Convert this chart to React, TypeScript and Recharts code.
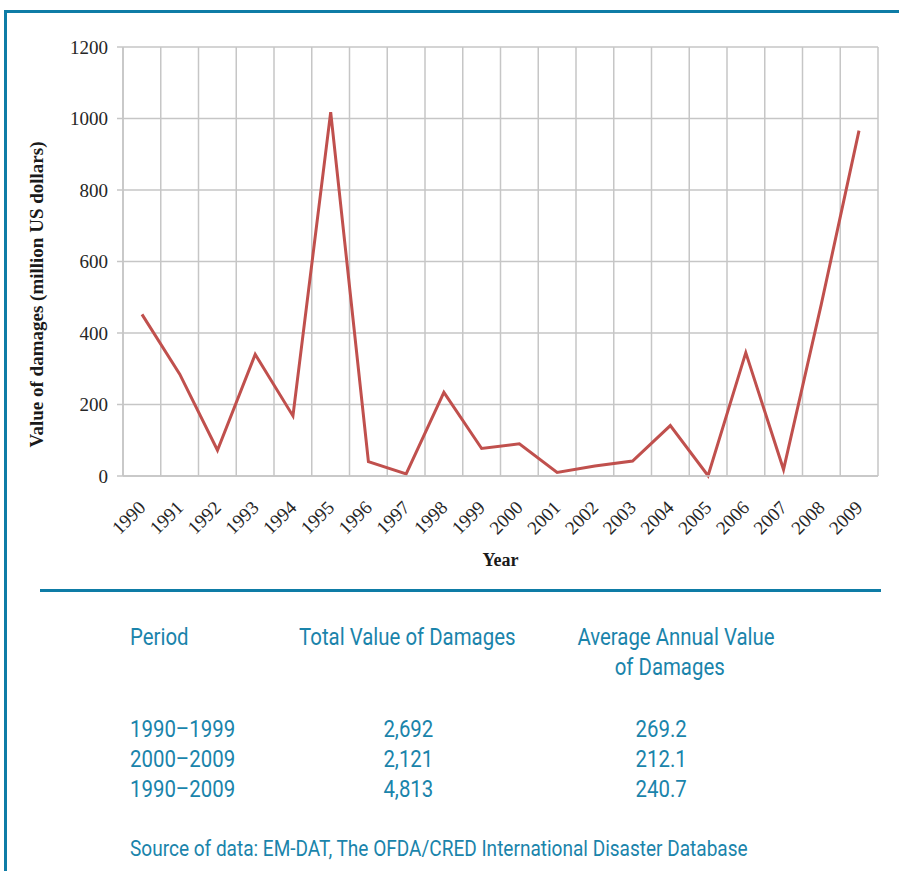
import { LineChart, Line, XAxis, YAxis, CartesianGrid } from "recharts";

const years = [
  "1990", "1991", "1992", "1993", "1994", "1995", "1996", "1997", "1998", "1999",
  "2000", "2001", "2002", "2003", "2004", "2005", "2006", "2007", "2008", "2009",
];
const damages = [452, 285, 72, 340, 168, 1018, 40, 6, 234, 77, 90, 10, 28, 42, 141, 1, 345, 18, 480, 966];
const yTicks = [0, 200, 400, 600, 800, 1000, 1200];

const periods = ["1990–1999", "2000–2009", "1990–2009"];
const totals = ["2,692", "2,121", "4,813"];
const averages = ["269.2", "212.1", "240.7"];

const chartData = years.map((year, i) => ({ year, value: damages[i] }));

const TEAL = "#1a84ab";
const LINE_TEAL = "#0e7ca6";
const GRID = "#c6c6c6";
const serif = '"Liberation Serif", "Times New Roman", serif';
const sans = 'Roboto, "Noto Sans", sans-serif';

function YearTick({ x, y, payload }: any) {
  return (
    <g transform={`translate(${x},${y + 20})`}>
      <text x={0} y={0} dy="0.35em" textAnchor="end" transform="rotate(-45)" fontFamily={serif} fontSize={19} fill="#262626">
        {payload.value}
      </text>
    </g>
  );
}

function YTitle({ viewBox }: any) {
  const cx = 36;
  const cy = viewBox.y + viewBox.height / 2 + 33;
  return (
    <text
      x={cx}
      y={cy}
      transform={`rotate(-90, ${cx}, ${cy})`}
      textAnchor="middle"
      dominantBaseline="central"
      fontFamily={serif}
      fontSize={19}
      fontWeight="bold"
      fill="#1a1a1a"
    >
      Value of damages (million US dollars)
    </text>
  );
}

// condensed-looking text: squeezed horizontally around its anchor
function Cell({ text, left, top, center, size = 24, squeeze = 0.85 }: { text: string; left?: number; top: number; center?: number; size?: number; squeeze?: number }) {
  const inner = (
    <span style={{ display: "inline-block", whiteSpace: "nowrap", transform: `scaleX(${squeeze})`, transformOrigin: center !== undefined ? "center" : "left" }}>
      {text}
    </span>
  );
  if (center !== undefined) {
    return (
      <div style={{ position: "absolute", left: center - 200, width: 400, top, textAlign: "center", fontSize: size, lineHeight: `${size}px` }}>
        {inner}
      </div>
    );
  }
  return <div style={{ position: "absolute", left, top, fontSize: size, lineHeight: `${size}px` }}>{inner}</div>;
}

export default function App() {
  return (
    <div style={{ position: "absolute", left: 0, top: 0, width: 899, height: 871, background: "#fff", overflow: "hidden" }}>
      <div style={{ position: "absolute", left: 4, top: 10, width: 895, height: 3, background: LINE_TEAL }} />
      <div style={{ position: "absolute", left: 4, top: 10, width: 3, height: 861, background: LINE_TEAL }} />

      <div style={{ position: "absolute", left: 0, top: 0 }}>
        <LineChart width={899} height={600} data={chartData} margin={{ top: 47, right: 21, bottom: 34, left: 43 }}>
          <CartesianGrid
            stroke={GRID}
            strokeWidth={1.5}
            verticalCoordinatesGenerator={({ offset }: any) =>
              years.concat([""]).map((_, i) => offset.left + (i * offset.width) / years.length)
            }
          />
          <XAxis
            dataKey="year"
            interval={0}
            height={90}
            padding={{ left: 19, right: 19 }}
            axisLine={{ stroke: GRID, strokeWidth: 1.5 }}
            tickLine={false}
            tick={<YearTick />}
            label={{
              value: "Year",
              position: "insideBottom",
              offset: 0,
              style: { fontFamily: serif, fontSize: 18, fontWeight: "bold", fill: "#1a1a1a" },
            }}
          />
          <YAxis
            domain={[0, 1200]}
            ticks={yTicks}
            width={80}
            axisLine={{ stroke: GRID, strokeWidth: 1.5 }}
            tickLine={{ stroke: GRID, strokeWidth: 1.5 }}
            tickSize={6}
            tickMargin={9}
            tick={{ fontFamily: serif, fontSize: 19, fill: "#262626" }}
            label={(props: any) => <YTitle {...props} />}
          />
          <Line type="linear" dataKey="value" stroke="#c0504d" strokeWidth={3} dot={false} isAnimationActive={false} />
        </LineChart>
      </div>

      <div style={{ position: "absolute", left: 40, top: 589, width: 841, height: 3, background: LINE_TEAL }} />

      <div style={{ position: "absolute", left: 0, top: 0, fontFamily: sans, color: TEAL }}>
        <Cell text="Period" left={130} top={625} />
        <Cell text="Total Value of Damages" center={407} top={625} />
        <Cell text="Average Annual Value" center={676} top={625} />
        <Cell text="of Damages" center={670} top={655} />
        {periods.map((p, i) => (
          <div key={p}>
            <Cell text={p} left={130} top={717 + i * 30} />
            <Cell text={totals[i]} center={408} top={717 + i * 30} />
            <Cell text={averages[i]} center={661} top={717 + i * 30} />
          </div>
        ))}
        <Cell text="Source of data: EM-DAT, The OFDA/CRED International Disaster Database" left={130} top={838} size={22} squeeze={0.865} />
      </div>
    </div>
  );
}
